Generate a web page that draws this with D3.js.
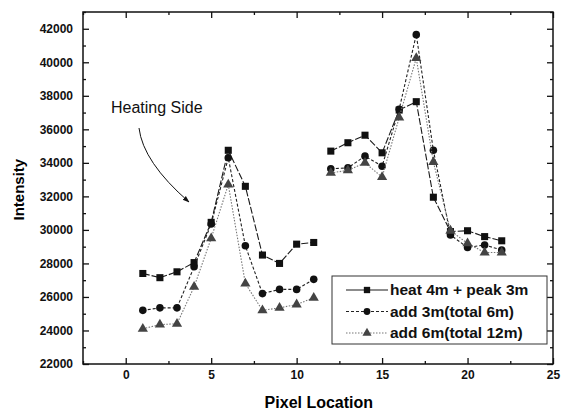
<!DOCTYPE html>
<html>
<head>
<meta charset="utf-8">
<script src="https://cdn.jsdelivr.net/npm/d3@7"></script>
<style>
  body { margin: 0; background: #fff; }
  text { font-family: "Liberation Sans", Arial, sans-serif; }
</style>
</head>
<body>
<svg id="chart"></svg>
<script>
// Data
const pixelsLeft = [1, 2, 3, 4, 5, 6, 7, 8, 9, 10, 11];
const pixelsRight = [12, 13, 14, 15, 16, 17, 18, 19, 20, 21, 22];
const heatPeak = [27400, 27150, 27500, 28050, 30450, 34750, 32600, 28500, 28000, 29150, 29250,
                  34700, 35200, 35650, 34600, 37150, 37650, 31950, 29900, 29950, 29600, 29350];
const add3m = [25200, 25350, 25350, 27800, 30350, 34300, 29050, 26200, 26450, 26450, 27050,
               33650, 33700, 34400, 33800, 37200, 41650, 34750, 29700, 28950, 29100, 28800];
const add6m = [24100, 24350, 24400, 26600, 29500, 32700, 26800, 25200, 25350, 25550, 25950,
               33400, 33550, 34000, 33150, 36700, 40250, 34050, 29950, 29200, 28650, 28650];
const seriesNames = ["heat 4m + peak 3m", "add 3m(total 6m)", "add 6m(total 12m)"];
const xTicks = [0, 5, 10, 15, 20, 25];
const yTicks = [22000, 24000, 26000, 28000, 30000, 32000, 34000, 36000, 38000, 40000, 42000];

const W = 568, H = 411;
const margin = { top: 12, right: 15, bottom: 47, left: 83 };
const width = W - margin.left - margin.right;
const height = H - margin.top - margin.bottom;

const svg = d3.select("#chart").attr("width", W).attr("height", H);
const g = svg.append("g").attr("transform", `translate(${margin.left},${margin.top})`);

const x = d3.scaleLinear().domain([-2.5, 25]).range([0, width]);
const y = d3.scaleLinear().domain([22000, 43000]).range([height, 0]);

// frame
g.append("rect").attr("width", width).attr("height", height)
  .attr("fill", "none").attr("stroke", "#111").attr("stroke-width", 1.5);

const xMinor = d3.range(-2.5, 25, 2.5).filter(v => v % 5 !== 0);
const yMinor = d3.range(23000, 43001, 2000);

function styleAxis(sel) {
  sel.select(".domain").remove();
  sel.selectAll("line").attr("stroke", "#111").attr("stroke-width", 1.3);
  sel.selectAll("text").attr("fill", "#111").style("font-size", "12px").style("font-weight", "bold");
}

g.append("g").attr("transform", `translate(0,${height})`)
  .call(d3.axisBottom(x).tickValues(xTicks).tickSize(-6).tickPadding(6).tickFormat(d3.format("d")))
  .call(styleAxis);
g.append("g").attr("transform", `translate(0,${height})`)
  .call(d3.axisBottom(x).tickValues(xMinor).tickSize(-3).tickFormat(""))
  .call(styleAxis);
g.append("g")
  .call(d3.axisTop(x).tickValues(xTicks).tickSize(-6).tickFormat(""))
  .call(styleAxis);
g.append("g")
  .call(d3.axisTop(x).tickValues(xMinor).tickSize(-3).tickFormat(""))
  .call(styleAxis);

g.append("g")
  .call(d3.axisLeft(y).tickValues(yTicks).tickSize(-6).tickPadding(10).tickFormat(d3.format("d")))
  .call(styleAxis);
g.append("g")
  .call(d3.axisLeft(y).tickValues(yMinor).tickSize(-3).tickFormat(""))
  .call(styleAxis);
g.append("g").attr("transform", `translate(${width},0)`)
  .call(d3.axisRight(y).tickValues(yTicks).tickSize(-6).tickFormat(""))
  .call(styleAxis);
g.append("g").attr("transform", `translate(${width},0)`)
  .call(d3.axisRight(y).tickValues(yMinor).tickSize(-3).tickFormat(""))
  .call(styleAxis);

// axis titles
svg.append("text")
  .attr("transform", `translate(24,${margin.top + y(32400)}) rotate(-90)`)
  .attr("text-anchor", "middle")
  .style("font-size", "15px").style("font-weight", "bold")
  .text("Intensity");
svg.append("text")
  .attr("x", margin.left + x(11.3)).attr("y", 408)
  .attr("text-anchor", "middle")
  .style("font-size", "16px").style("font-weight", "bold")
  .text("Pixel Location");

// series
const pixels = pixelsLeft.concat(pixelsRight);
const series = [
  { name: seriesNames[0], values: heatPeak, color: "#1a1a1a", dash: "7,2", shape: d3.symbolSquare, size: 50 },
  { name: seriesNames[1], values: add3m, color: "#222", dash: "3,2", shape: d3.symbolCircle, size: 45 },
  { name: seriesNames[2], values: add6m, color: "#777", dash: "1.5,1.5", shape: d3.symbolTriangle, size: 45 }
];

const line = d3.line().x(d => x(d.x)).y(d => y(d.v));

series.forEach(s => {
  const pts = pixels.map((p, i) => ({ x: p, v: s.values[i] }));
  const parts = [pts.slice(0, pixelsLeft.length), pts.slice(pixelsLeft.length)];
  parts.forEach(part => {
    g.append("path").datum(part)
      .attr("fill", "none")
      .attr("stroke", s.color)
      .attr("stroke-width", 1.1)
      .attr("stroke-dasharray", s.dash)
      .attr("d", line);
  });
  g.selectAll(null).data(pts).enter().append("path")
    .attr("transform", d => `translate(${x(d.x)},${y(d.v)})`)
    .attr("d", d3.symbol().type(s.shape).size(s.size))
    .attr("fill", s.shape === d3.symbolTriangle ? "#444" : "#111");
});

// annotation
svg.append("defs").append("marker")
  .attr("id", "arrow").attr("viewBox", "0 0 10 10")
  .attr("refX", 9).attr("refY", 5)
  .attr("markerWidth", 7).attr("markerHeight", 7)
  .attr("orient", "auto")
  .append("path").attr("d", "M0,1.5 L10,5 L0,8.5 Z").attr("fill", "#111");

svg.append("text")
  .attr("x", 111).attr("y", 113)
  .style("font-size", "16px")
  .attr("fill", "#111")
  .text("Heating Side");
svg.append("path")
  .attr("d", "M139,128 Q143,162 189,202")
  .attr("fill", "none").attr("stroke", "#111").attr("stroke-width", 1)
  .attr("marker-end", "url(#arrow)");

// legend
const lg = svg.append("g").attr("transform", "translate(332,276)");
lg.append("rect").attr("width", 215).attr("height", 68)
  .attr("fill", "#fff").attr("stroke", "#333").attr("stroke-width", 1);
series.forEach((s, i) => {
  const yy = 14 + i * 21.5;
  lg.append("line").attr("x1", 14).attr("x2", 56).attr("y1", yy).attr("y2", yy)
    .attr("stroke", s.color).attr("stroke-width", 1.1)
    .attr("stroke-dasharray", i === 0 ? null : s.dash);
  lg.append("path").attr("transform", `translate(35,${yy})`)
    .attr("d", d3.symbol().type(s.shape).size(s.size * 0.8))
    .attr("fill", s.shape === d3.symbolTriangle ? "#444" : "#111");
  lg.append("text").attr("x", 58).attr("y", yy + 5)
    .style("font-size", "15.5px").style("font-weight", "bold")
    .attr("fill", "#111")
    .text(s.name);
});
</script>
</body>
</html>
